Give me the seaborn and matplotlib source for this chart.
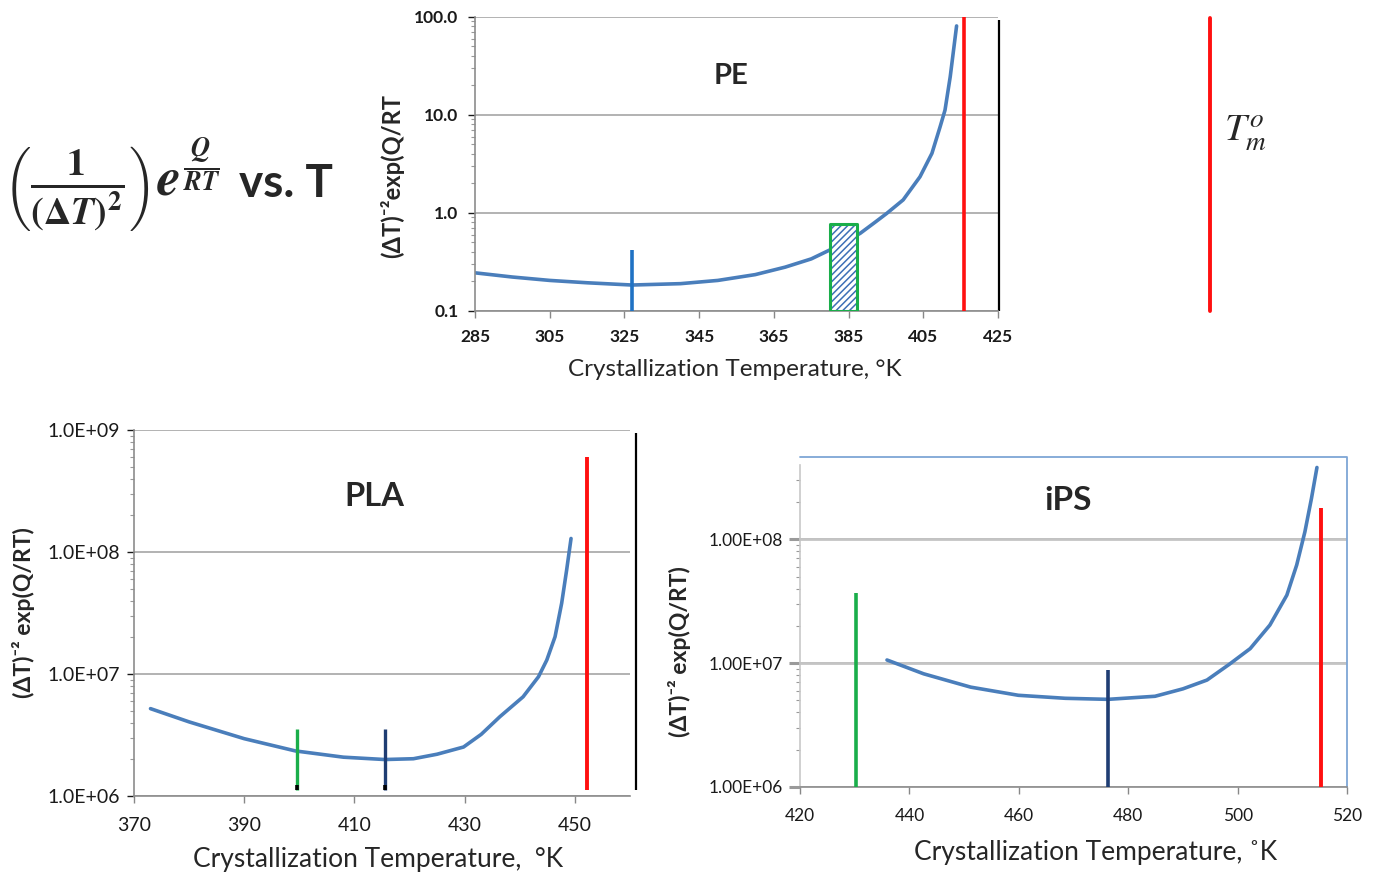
import numpy as np
import pandas as pd
import seaborn as sns
import matplotlib.pyplot as plt
from matplotlib.lines import Line2D
from matplotlib.ticker import FixedLocator, NullFormatter, LogLocator

# ---- data ----
pe_temp = [285, 295, 305, 315, 327, 340, 350, 360, 368, 375, 380, 385, 388.1, 392, 395.2,
           399.6, 404.1, 407.3, 409.5, 410.8, 412.2, 413.9]
pe_value = [0.245, 0.222, 0.205, 0.194, 0.184, 0.19, 0.205, 0.235, 0.28, 0.34, 0.42, 0.53, 0.62,
            0.8, 0.99, 1.36, 2.34, 4.06, 7.6, 11.2, 24.6, 81]
pe_xticks = [285, 305, 325, 345, 365, 385, 405, 425]
pe_yticks = [0.1, 1, 10, 100]
pe_ylabels = ["0.1", "1.0", "10.0", "100.0"]
pe_min_T = 327          # blue marker
pe_window = [380, 387.2]  # hatched window
pe_window_top = 0.77
pe_melt = 416           # red line
pe_edge = 425.3         # black line

pla_temp = [373, 380, 390, 399.3, 408, 415.5, 420.7, 425, 429.8, 433, 436.4, 440.6, 443.4,
            444.9, 446.4, 447.6, 448.5, 449.3]
pla_value = [5.2e6, 4.05e6, 2.95e6, 2.34e6, 2.08e6, 1.99e6, 2.02e6, 2.2e6, 2.52e6, 3.2e6,
             4.47e6, 6.5e6, 9.5e6, 1.3e7, 2.02e7, 3.8e7, 7.1e7, 1.29e8]
pla_xticks = [370, 390, 410, 430, 450]
pla_yticks = [1e6, 1e7, 1e8, 1e9]
pla_ylabels = ["1.0E+06", "1.0E+07", "1.0E+08", "1.0E+09"]
pla_green_T, pla_navy_T = 399.5, 415.6
pla_mark_top = 3.55e6
pla_melt, pla_melt_top = 452.2, 5.96e8
pla_edge, pla_edge_top = 461, 9.5e8

ips_temp = [435.9, 442.6, 451.2, 459.9, 468.5, 476.3, 484.9, 490, 494.4, 498.5, 502.3, 505.9,
            509.0, 510.8, 512.3, 513.5, 514.5]
ips_value = [1.06e7, 8.2e6, 6.4e6, 5.5e6, 5.2e6, 5.1e6, 5.4e6, 6.2e6, 7.3e6, 9.8e6, 1.31e7,
             2.03e7, 3.54e7, 6.2e7, 1.15e8, 2.14e8, 3.8e8]
ips_xticks = [420, 440, 460, 480, 500, 520]
ips_yticks = [1e6, 1e7, 1e8]
ips_ylabels = ["1.00E+06", "1.00E+07", "1.00E+08"]
ips_green_T, ips_green_top = 430.3, 3.7e7
ips_navy_T, ips_navy_top = 476.3, 8.8e6
ips_melt, ips_melt_top = 515.3, 1.78e8

ylab_pe = "(ΔT)⁻²exp(Q/RT"
ylab = "(ΔT)⁻² exp(Q/RT)"

CURVE = "#4a7ebb"
GREEN = "#1aae4a"
NAVY = "#1f3d73"
RED = "#ff1010"
GRID = "#a6a6a6"

sns.set_theme(style="white")
plt.rcParams["font.family"] = ["Lato", "DejaVu Sans"]
plt.rcParams["hatch.linewidth"] = 1.1
plt.rcParams["mathtext.fontset"] = "custom"
plt.rcParams["mathtext.rm"] = "STIXGeneral:bold"
plt.rcParams["mathtext.it"] = "STIXGeneral:italic:bold"
plt.rcParams["mathtext.bf"] = "STIXGeneral:bold"

fig = plt.figure(figsize=(13.81, 8.75), dpi=100)

def style_log_axes(ax, yticks, ylabels, xticks, tick_size, tick_weight, xpad, ypad):
    ax.set_yscale("log")
    ax.yaxis.set_major_locator(FixedLocator(yticks))
    ax.set_yticklabels(ylabels)
    ax.yaxis.set_minor_locator(LogLocator(base=10, subs=np.arange(2, 10)))
    ax.yaxis.set_minor_formatter(NullFormatter())
    ax.set_xticks(xticks)
    ax.tick_params(axis="both", which="major", labelsize=tick_size, colors="#1a1a1a",
                   length=5, width=1, direction="out", left=True, bottom=True)
    ax.tick_params(axis="x", which="major", pad=xpad, color="#888888")
    ax.tick_params(axis="y", which="major", pad=ypad)
    ax.tick_params(axis="y", which="minor", length=3, width=0.8, color="#999999", left=True)
    for lab in ax.get_xticklabels() + ax.get_yticklabels():
        lab.set_fontweight(tick_weight)
    ax.grid(False)
    for y in yticks:
        ax.axhline(y, color=GRID, lw=1.2, zorder=0)
    for s in ["top", "right"]:
        ax.spines[s].set_visible(False)
    for s in ["left", "bottom"]:
        ax.spines[s].set_color("#8c8c8c")
        ax.spines[s].set_linewidth(1.2)

# ---- PE ----
ax1 = fig.add_axes([0.344, 0.6446, 0.3787, 0.336])
sns.lineplot(x=pe_temp, y=pe_value, ax=ax1, color=CURVE, lw=2.6, sort=False, estimator=None)
ax1.fill_between(pe_window, 0.1, pe_window_top, facecolor="white", edgecolor="#3d6fb6",
                 hatch="/////", lw=0, zorder=3)
ax1.fill_between(pe_window, 0.1, pe_window_top, facecolor="none", edgecolor=GREEN, lw=2.2, zorder=4)
ax1.vlines(pe_min_T, 0.1, 0.42, color="#1f72c4", lw=2.6, zorder=4)
ax1.vlines(pe_melt, 0.1, 100, color=RED, lw=2.6, zorder=4)
ax1.vlines(pe_edge, 0.1, 94, color="black", lw=1.6, clip_on=False)
ax1.set_xlim(285, 425)
ax1.set_ylim(0.1, 100)
style_log_axes(ax1, pe_yticks, pe_ylabels, pe_xticks, 12.5, "bold", 8, 7)
ax1.set_xlabel("Crystallization Temperature, °K", fontsize=17.5)
ax1.set_ylabel(ylab_pe, fontsize=17, fontweight="bold")
ax1.xaxis.set_label_coords(0.497, -0.165)
ax1.yaxis.set_label_coords(-0.135, 0.46)
ax1.text(0.49, 0.80, "PE", transform=ax1.transAxes, fontsize=21, fontweight="bold",
         ha="center", va="center")

# ---- PLA ----
ax2 = fig.add_axes([0.097, 0.0903, 0.3592, 0.4183])
sns.lineplot(x=pla_temp, y=pla_value, ax=ax2, color=CURVE, lw=2.6, sort=False, estimator=None)
ax2.vlines([pla_green_T, pla_navy_T], 1.13e6, pla_mark_top, color=[GREEN, NAVY], lw=2.4, zorder=4)
ax2.vlines([pla_green_T, pla_navy_T], 1.12e6, 1.24e6, color="black", lw=2.6, zorder=5)
ax2.vlines(pla_melt, 1.13e6, pla_melt_top, color=RED, lw=2.8, zorder=4)
ax2.vlines(pla_edge, 1.13e6, pla_edge_top, color="black", lw=1.6, clip_on=False)
ax2.set_xlim(370, 460)
ax2.set_ylim(1e6, 1e9)
style_log_axes(ax2, pla_yticks, pla_ylabels, pla_xticks, 14, "normal", 10, 5)
ax2.set_xlabel("Crystallization Temperature,  °K", fontsize=19)
ax2.set_ylabel(ylab, fontsize=16.5, fontweight="bold")
ax2.xaxis.set_label_coords(0.492, -0.14)
ax2.yaxis.set_label_coords(-0.2, 0.5)
ax2.text(0.484, 0.817, "PLA", transform=ax2.transAxes, fontsize=23.5, fontweight="bold",
         ha="center", va="center")

# ---- iPS ----
ax3 = fig.add_axes([0.5793, 0.1006, 0.3961, 0.368])
sns.lineplot(x=ips_temp, y=ips_value, ax=ax3, color=CURVE, lw=2.6, sort=False, estimator=None)
ax3.vlines(ips_green_T, 1e6, ips_green_top, color=GREEN, lw=2.6, zorder=4)
ax3.vlines(ips_navy_T, 1e6, ips_navy_top, color=NAVY, lw=2.6, zorder=4)
ax3.vlines(ips_melt, 1e6, ips_melt_top, color=RED, lw=2.8, zorder=4)
ax3.set_xlim(420, 520)
ax3.set_ylim(1e6, 10 ** 8.6)
style_log_axes(ax3, ips_yticks, ips_ylabels, ips_xticks, 12.5, "normal", 10, 4)
ax3.tick_params(axis="y", which="major", length=8, width=2.2, color="#9a9a9a")
for y in ips_yticks:
    ax3.axhline(y, color="#c4c4c4", lw=2.0, zorder=0)
ax3.spines["left"].set_color("#c8c8c8")
ax3.plot([0, 1, 1], [1.025, 1.025, 0], transform=ax3.transAxes, color="#7ea6d6",
         lw=1.3, clip_on=False)
ax3.set_xlabel("Crystallization Temperature, ˚K", fontsize=19)
ax3.set_ylabel(ylab, fontsize=16.5, fontweight="bold")
ax3.xaxis.set_label_coords(0.541, -0.165)
ax3.yaxis.set_label_coords(-0.2, 0.42)
ax3.text(0.49, 0.891, "iPS", transform=ax3.transAxes, fontsize=24, fontweight="bold",
         ha="center", va="center")

# ---- annotations outside the axes ----
fig.text(0.002, 0.788, r"$\left(\frac{1}{(\Delta T)^2}\right) e^{\frac{Q}{RT}}$",
         fontsize=39, ha="left", va="center", math_fontfamily="custom")
fig.text(0.173, 0.79, "vs. T", fontsize=33, fontweight="bold", ha="left", va="center")
fig.add_artist(Line2D([0.876, 0.876], [0.979, 0.645], color=RED, lw=2.8))
fig.text(0.886, 0.848, r"$T_m^o$", fontsize=28, ha="left", va="center", math_fontfamily="stix")

fig.savefig("out.png", dpi=100, facecolor="white")
